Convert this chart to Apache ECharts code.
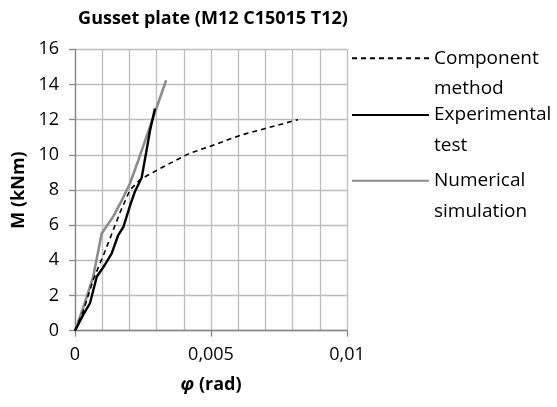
<!DOCTYPE html>
<html>
<head>
<meta charset="utf-8">
<script src="https://cdn.jsdelivr.net/npm/echarts@6/dist/echarts.min.js"></script>
<style>html,body{margin:0;padding:0;background:#fff}#c{width:557px;height:407px}</style>
</head>
<body>
<div id="c"></div>
<script>
const titleText = 'Gusset plate (M12 C15015 T12)';
const seriesNames = ['Component method', 'Experimental test', 'Numerical simulation'];
const legendLines = [['Component', 'method'], ['Experimental', 'test'], ['Numerical', 'simulation']];

const compX = [0, 0.0003, 0.00067, 0.0011, 0.00135, 0.00165, 0.00202, 0.0024, 0.0031, 0.0042, 0.005, 0.0061, 0.007, 0.0082];
const compY = [0, 1.1, 2.9, 4.5, 5.5, 6.7, 8.0, 8.6, 9.2, 10.08, 10.5, 11.12, 11.5, 12.0];

const expX = [0, 0.0003, 0.00055, 0.0008, 0.0011, 0.00135, 0.00159, 0.00178, 0.0019, 0.00205, 0.0022, 0.00245, 0.00261, 0.00276, 0.00294];
const expY = [0, 0.9, 1.56, 3.07, 3.75, 4.4, 5.44, 5.9, 6.5, 7.24, 7.9, 8.7, 10.08, 11.4, 12.64];

const numX = [0, 0.0003, 0.00067, 0.00098, 0.00141, 0.00175, 0.00202, 0.00233, 0.00335];
const numY = [0, 1.3, 3.07, 5.53, 6.5, 7.5, 8.37, 9.7, 14.24];

const xTicks = [0, 0.005, 0.01];
const yTicks = [0, 2, 4, 6, 8, 10, 12, 14, 16];

const zip = (a, b) => a.map((v, i) => [v, b[i]]);
const FONT = '"Open Sans", "Noto Sans", sans-serif';
const colors = ['#000000', '#000000', '#8c8c8c'];
const legendTops = [63.3, 120, 185.7];

const chart = echarts.init(document.getElementById('c'), null, { renderer: 'canvas' });

const legends = seriesNames.map((name, i) => ({
  data: [name],
  left: 351,
  top: legendTops[i] - 45,
  padding: 0,
  orient: 'vertical',
  itemWidth: 77,
  itemHeight: 14,
  itemGap: 0,
  selectedMode: false,
  formatter: () => '{a| }\n{a|' + legendLines[i][0] + '}\n{a|' + legendLines[i][1] + '}',
  textStyle: {
    rich: { a: { fontFamily: FONT, fontSize: 19, lineHeight: 30.5, color: '#000' } }
  },
  itemStyle: { opacity: 0 }
}));

chart.setOption({
  animation: false,
  backgroundColor: '#fff',
  title: {
    text: titleText,
    left: 208,
    textAlign: 'center',
    top: 5,
    textStyle: { fontFamily: FONT, fontSize: 18, fontWeight: 'bold', color: '#000' }
  },
  legend: legends,
  grid: { left: 75, right: 210, top: 49.3, bottom: 76.3, containLabel: false },
  xAxis: {
    type: 'value',
    min: 0, max: 0.01, interval: 0.005,
    axisLine: { show: true, onZero: false, lineStyle: { color: '#868686', width: 1.3 } },
    axisTick: { show: true, inside: false, length: 6, lineStyle: { color: '#868686', width: 1.3 } },
    axisLabel: {
      margin: 15,
      fontFamily: FONT, fontSize: 18, color: '#000',
      formatter: v => xTicks.includes(v) ? String(v).replace('.', ',') : ''
    },
    splitLine: { show: true, lineStyle: { color: '#bdbdbd', width: 1.3 } },
    minorTick: { show: false, splitNumber: 5 },
    minorSplitLine: { show: true, lineStyle: { color: '#bdbdbd', width: 1.3 } },
    name: '{i|φ} (rad)',
    nameLocation: 'middle',
    nameGap: 45,
    nameTextStyle: {
      fontFamily: FONT, fontSize: 18, fontWeight: 'bold', color: '#000',
      rich: { i: { fontFamily: FONT, fontSize: 18, fontWeight: 'bold', fontStyle: 'italic', color: '#000' } }
    }
  },
  yAxis: {
    type: 'value',
    min: 0, max: 16, interval: 2,
    axisLine: { show: true, onZero: false, lineStyle: { color: '#868686', width: 1.3 } },
    axisTick: { show: true, inside: false, length: 6, lineStyle: { color: '#868686', width: 1.3 } },
    axisLabel: {
      margin: 16,
      fontFamily: FONT, fontSize: 18, color: '#000',
      formatter: v => yTicks.includes(v) ? String(v) : ''
    },
    splitLine: { show: true, lineStyle: { color: '#bdbdbd', width: 1.3 } },
    name: 'M (kNm)',
    nameLocation: 'middle',
    nameGap: 47,
    nameTextStyle: { fontFamily: FONT, fontSize: 18, fontWeight: 'bold', color: '#000' }
  },
  series: [
    {
      name: seriesNames[0], type: 'line', data: zip(compX, compY),
      symbol: 'none', z: 3,
      itemStyle: { color: colors[0] },
      lineStyle: { color: colors[0], width: 1.6, type: [5, 4] }
    },
    {
      name: seriesNames[1], type: 'line', data: zip(expX, expY),
      symbol: 'none', z: 4,
      itemStyle: { color: colors[1] },
      lineStyle: { color: colors[1], width: 2.4 }
    },
    {
      name: seriesNames[2], type: 'line', data: zip(numX, numY),
      symbol: 'none', z: 2,
      itemStyle: { color: colors[2] },
      lineStyle: { color: colors[2], width: 2.6 }
    }
  ]
});
</script>
</body>
</html>
